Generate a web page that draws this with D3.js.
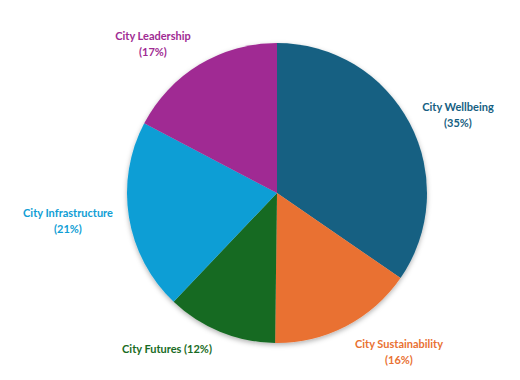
<!DOCTYPE html>
<html><head><meta charset="utf-8">
<script src="https://cdn.jsdelivr.net/npm/d3@7"></script>
<style>body{margin:0;background:#fff}svg{display:block}</style>
</head><body>
<svg id="chart" width="520" height="380"></svg>
<script>
const categories = ["City Wellbeing","City Sustainability","City Futures","City Infrastructure","City Leadership"];
const values = [34.6, 15.6, 11.9, 20.6, 17.3];
const percentLabels = ["35%","16%","12%","21%","17%"];
const colors = ["#156082","#E97132","#196B24","#0F9ED5","#A02B93"];
// label layout (center x, first-line y, single-line flag)
const labelLayout = [
  {x:458, y:106, one:false},
  {x:399, y:343, one:false},
  {x:167, y:348, one:true},
  {x:68,  y:212, one:false},
  {x:153, y:35,  one:false}
];

const svg = d3.select("#chart");
const cx = 277, cy = 193, R = 150;
const defs = svg.append("defs");
const f = defs.append("filter").attr("id","sh").attr("x","-20%").attr("y","-20%").attr("width","140%").attr("height","140%");
f.append("feDropShadow").attr("dx",0).attr("dy",2).attr("stdDeviation",2.5).attr("flood-color","#000").attr("flood-opacity",0.3);

const pie = d3.pie().sort(null).value(d=>d)(values);
const arc = d3.arc().innerRadius(0).outerRadius(R);
const g = svg.append("g").attr("transform",`translate(${cx},${cy})`).attr("filter","url(#sh)");
g.selectAll("path").data(pie).join("path").attr("d",arc).attr("fill",(d,i)=>colors[i]);

const lg = svg.append("g").attr("font-family","Lato, 'Open Sans', sans-serif").attr("font-weight","bold").attr("font-size","11px").attr("text-anchor","middle");
categories.forEach((c,i)=>{
  const L = labelLayout[i];
  const t = lg.append("text").attr("fill",colors[i]).attr("x",L.x).attr("y",L.y).attr("dominant-baseline","central");
  if (L.one) { t.text(`${c} (${percentLabels[i]})`); }
  else {
    t.append("tspan").attr("x",L.x).attr("y",L.y).text(c);
    t.append("tspan").attr("x",L.x).attr("y",L.y+16).text(`(${percentLabels[i]})`);
  }
});
</script>
</body></html>
